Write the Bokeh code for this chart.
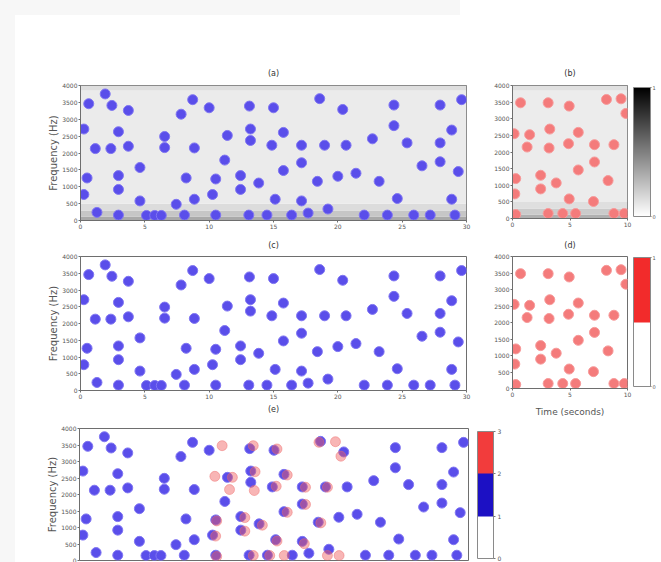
from bokeh.plotting import figure
from bokeh.models import ColorBar, LinearColorMapper, FixedTicker, Spacer, Range1d, Title
from bokeh.layouts import row, column
from bokeh.palettes import Greys256
from bokeh.embed import file_html
from bokeh.resources import INLINE

# ---- constellation peaks of the full recording: time (s), frequency (Hz)
song_t = [0.64, 1.92, 2.44, 3.72, 0.26, 2.95, 1.15, 2.36, 3.72, 0.51,
          0.26, 2.95, 2.95, 4.62, 4.62, 1.28, 2.95, 5.13, 5.77, 6.28,
          6.54, 6.54, 7.82, 8.72, 10.0, 8.85, 8.21, 7.44, 8.85, 8.08,
          10.51, 10.26, 10.51, 11.21, 11.41, 12.44, 12.44, 13.85, 13.13, 13.21,
          13.21, 15.0, 14.87, 15.77, 15.77, 15.13, 13.08, 14.49, 16.41, 17.18,
          17.18, 17.18, 17.69, 18.59, 18.97, 18.41, 19.23, 20.38, 20.64, 20.0,
          21.41, 22.05, 22.69, 23.21, 23.85, 24.36, 24.36, 25.38, 24.62, 25.90,
          27.18, 26.54, 27.95, 27.95, 27.95, 28.85, 29.36, 28.85, 29.62, 29.10]
song_f = [3460, 3750, 3410, 3260, 2710, 2630, 2130, 2130, 2200, 1260,
          770, 1330, 920, 1570, 580, 240, 160, 150, 150, 150,
          2490, 2160, 3150, 3580, 3340, 2150, 1260, 480, 630, 160,
          160, 770, 1230, 1790, 2520, 1330, 920, 1110, 3390, 2710,
          2370, 3340, 2230, 2610, 1480, 630, 160, 160, 160, 2230,
          1710, 580, 220, 3610, 2230, 1160, 340, 3290, 2230, 1310,
          1400, 160, 2420, 1160, 160, 3420, 2810, 2300, 650, 160,
          160, 1620, 3420, 2300, 1740, 2680, 1450, 630, 3580, 160]

# ---- constellation peaks of the query clip
query_t = [0.70, 3.10, 4.93, 8.17, 9.44, 9.86, 0.14, 1.49, 3.24, 5.72,
           1.27, 3.18, 4.87, 7.13, 8.82, 7.13, 5.72, 0.28, 2.45, 3.80,
           2.45, 8.31, 0.20, 4.93, 7.04, 0.28, 3.10, 4.37, 5.49, 8.82, 9.72]
query_f = [3480, 3480, 3380, 3580, 3600, 3160, 2550, 2520, 2690, 2590,
           2150, 2120, 2250, 2220, 2220, 1700, 1460, 1200, 1300, 1070,
           890, 1140, 740, 590, 510, 120, 150, 150, 150, 150, 150]

# best-matching position of the query inside the recording (s)
match_offset = 10.3

freq_ticks = [0, 500, 1000, 1500, 2000, 2500, 3000, 3500, 4000]
song_time_ticks = [0, 5, 10, 15, 20, 25, 30]
query_time_ticks = [0, 5, 10]
unit_ticks = [0, 1]
overlay_ticks = [0, 1, 2, 3]

# coarse spectrogram magnitude shown under the peaks: frequency bands and grey level
band_lo = [0, 120, 300, 500, 3850]
band_hi = [120, 300, 500, 3850, 4000]
song_band_grey = ["#a9a9a9", "#c6c6c6", "#dcdcdc", "#ebebeb", "#dedede"]
query_band_grey = ["#b0b0b0", "#cbcbcb", "#dfdfdf", "#ececec", "#e0e0e0"]

BLUE = "#5a4eea"
BLUE_EDGE = "#8076f2"
RED = "#f47b7b"
RED_EDGE = "#f79a9a"
FONT = "DejaVu Sans"
SIDE = "#f7f7f7"
TEXT = "#555555"


def style_title(t, standoff):
    t.align = "center"
    t.text_font = FONT
    t.text_font_size = "8px"
    t.text_font_style = "normal"
    t.text_color = "#333333"
    t.standoff = standoff


def panel(title, width, height, x_end, x_ticks, borders, title_gap=11, show_x=True):
    left, right, top, bottom = borders
    p = figure(width=width, height=height, title=title,
               x_range=Range1d(0, x_end), y_range=Range1d(0, 4000),
               output_backend="svg", toolbar_location=None,
               min_border_left=left, min_border_right=right,
               min_border_top=top, min_border_bottom=bottom,
               background_fill_color="white", border_fill_color="white")
    if title:
        style_title(p.title, title_gap)
    p.grid.visible = False
    p.outline_line_color = "#6e6e6e"
    p.xaxis.ticker = FixedTicker(ticks=x_ticks)
    p.yaxis.ticker = FixedTicker(ticks=freq_ticks)
    for ax in (p.xaxis[0], p.yaxis[0]):
        ax.axis_line_color = "#6e6e6e"
        ax.major_tick_line_color = "#6e6e6e"
        ax.major_tick_out = 2
        ax.major_tick_in = 0
        ax.minor_tick_line_color = None
        ax.major_label_text_font = FONT
        ax.major_label_text_font_size = "6px"
        ax.major_label_text_color = TEXT
        ax.major_label_standoff = 1
    p.xaxis.visible = show_x
    return p


def freq_label(p):
    p.yaxis.axis_label = "Frequency (Hz)"
    p.yaxis.axis_label_text_font = FONT
    p.yaxis.axis_label_text_font_size = "10px"
    p.yaxis.axis_label_text_font_style = "normal"
    p.yaxis.axis_label_text_color = TEXT
    p.yaxis.axis_label_standoff = 0


def spectrogram(p, x_end, greys):
    p.quad(left=0, right=x_end, bottom=band_lo, top=band_hi,
           fill_color=greys, line_color=None)


def peaks(p, t, f, fill, edge, alpha=1.0):
    p.scatter(t, f, size=10, fill_color=fill, line_color=edge,
              fill_alpha=alpha, line_alpha=alpha, line_width=1)


def add_bar(p, palette, low, high, ticks, bar_width, bar_height, gap_x, gap_y,
            label_size="6px", tick_out=2, label_gap=2):
    mapper = LinearColorMapper(palette=palette, low=low, high=high)
    cb = ColorBar(color_mapper=mapper, width=bar_width, height=bar_height,
                  location=(gap_x, gap_y), margin=0, padding=0,
                  ticker=FixedTicker(ticks=ticks),
                  major_label_text_font=FONT, major_label_text_font_size=label_size,
                  major_label_text_color=TEXT, label_standoff=label_gap,
                  major_tick_out=tick_out, major_tick_in=0,
                  major_tick_line_color="#777777",
                  bar_line_color="#8a8a8a",
                  background_fill_alpha=0, border_line_color=None)
    p.add_layout(cb, "right")


# (a) recording spectrogram with its peaks
pa = panel("(a)", 465, 217, 30, song_time_ticks, (59, 14, 70, 12), title_gap=15)
freq_label(pa)
spectrogram(pa, 30, song_band_grey)
peaks(pa, song_t, song_f, BLUE, BLUE_EDGE)

# (b) query spectrogram with its peaks; normalised magnitude scale on the right
pb = panel("(b)", 181, 217, 10, query_time_ticks, (28, 34, 70, 14), title_gap=15)
spectrogram(pb, 10, query_band_grey)
peaks(pb, query_t, query_f, RED, RED_EDGE)
add_bar(pb, list(reversed(Greys256)), 0, 1, unit_ticks, 17, 129, 6, 2,
        label_size="5px", tick_out=1, label_gap=1)

# (c) recording peaks only; the caption of the overlay panel sits in its bottom strip
pc = panel("(c)", 465, 188, 30, song_time_ticks, (65, 10, 22, 30), title_gap=13)
freq_label(pc)
peaks(pc, song_t, song_f, BLUE, BLUE_EDGE)
e_title = Title(text="(e)")
style_title(e_title, 3)
pc.add_layout(e_title, "below")

# (d) query peaks only
pd_ = panel("(d)", 181, 188, 10, query_time_ticks, (32, 31, 23, 32), title_gap=13)
peaks(pd_, query_t, query_f, RED, RED_EDGE)
add_bar(pd_, ["#ffffff", "#f22b2b"], 0, 1, unit_ticks, 17, 129, 6, 2,
        label_size="5px", tick_out=1, label_gap=1)
pd_.xaxis.axis_label = "Time (seconds)"
pd_.xaxis.axis_label_text_font = FONT
pd_.xaxis.axis_label_text_font_size = "9px"
pd_.xaxis.axis_label_text_font_style = "normal"
pd_.xaxis.axis_label_text_color = TEXT
pd_.xaxis.axis_label_standoff = 7

# (e) query peaks placed at the matching offset over the recording peaks
pe = panel(None, 646, 142, 30, song_time_ticks, (64, 193, 8, 2), show_x=False)
freq_label(pe)
peaks(pe, song_t, song_f, BLUE, BLUE_EDGE)
peaks(pe, [t + match_offset for t in query_t], query_f, "#f05a5a", "#ee6a6a", alpha=0.45)
add_bar(pe, ["#ffffff", "#1c10c4", "#f23c3c"], 0, 3, overlay_ticks, 16, 127, 9, 2)

left_col = column(pa, pc)
right_col = column(pb, pd_)
body = column(row(left_col, right_col), pe)

top_strip = row(Spacer(width=460, height=15, styles={"background-color": SIDE}),
                Spacer(width=201, height=15))
page = column(top_strip,
              row(Spacer(width=15, height=547, styles={"background-color": SIDE}), body))

with open("out.html", "w") as fh:
    fh.write(file_html(page, INLINE))
